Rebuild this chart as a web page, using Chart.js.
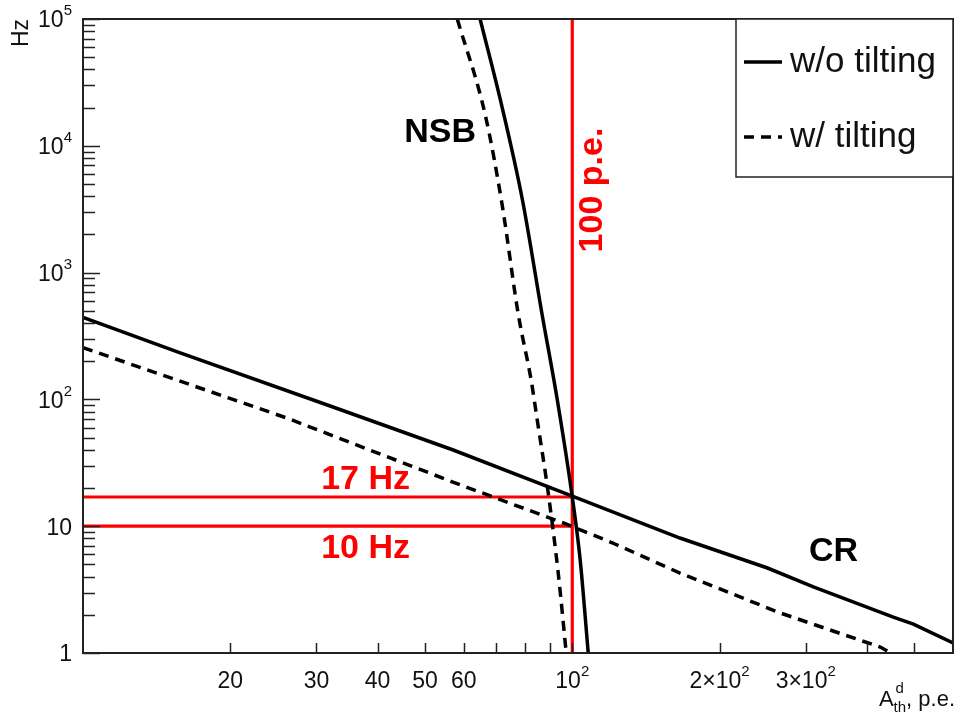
<!DOCTYPE html>
<html lang="en">
<head>
  <meta charset="UTF-8">
  <title>NSB and CR rates vs threshold</title>
  <script src="https://cdn.jsdelivr.net/npm/chart.js"></script>
  <style>
    html, body { margin: 0; padding: 0; background: #fff; }
    #wrap { width: 959px; height: 715px; position: relative; }
  </style>
</head>
<body>
  <div id="wrap"><canvas id="rates"></canvas></div>

  <script>
    // threshold A_th (p.e.) -> rate (Hz)
    const crNoTiltX = [10, 15.8, 32, 57.1, 100, 166, 250.6, 311, 453, 498, 600];
    const crNoTiltY = [444, 233, 88.7, 39.9, 17.3, 8.07, 4.68, 3.32, 1.92, 1.69, 1.2];

    const crTiltX = [10, 26.1, 57, 95.9, 121, 166, 266, 427, 447];
    const crTiltY = [256, 71.3, 22.3, 10.6, 7.37, 4.27, 2.07, 1.11, 1.0];

    const nsbNoTiltX = [64.8, 71.3, 79.1, 86.8, 93.2, 100, 103.8, 107.8];
    const nsbNoTiltY = [100000, 23000, 3740, 463, 99, 17, 5.4, 1];

    const nsbTiltX = [58.2, 66.4, 71.9, 77.6, 82.4, 84.8, 89.3, 93.6, 97.2];
    const nsbTiltY = [100000, 17500, 3410, 463, 142, 68.8, 18.3, 4.27, 1];

    // red reference lines
    const thresholdPe = 100;
    const rateLevels = [17, 10];

    // axes
    const xMin = 10, xMax = 600;
    const yMin = 1, yMax = 100000;
    const xTickValues = [20, 30, 40, 50, 60, 70, 80, 90, 100, 200, 300, 400, 500];
    const xLabelValues = [20, 30, 40, 50, 60, 100, 200, 300];
    const xLabelTexts = [['20', ''], ['30', ''], ['40', ''], ['50', ''], ['60', ''], ['10', '2'], ['2\u00d710', '2'], ['3\u00d710', '2']];
    const yLabelValues = [1, 10, 100, 1000, 10000, 100000];
    const yLabelTexts = [['1', ''], ['10', ''], ['10', '2'], ['10', '3'], ['10', '4'], ['10', '5']];
    const yTickValues = [];
    for (let d = 1; d < yMax; d *= 10) {
      for (let m = 1; m <= 9; m++) yTickValues.push(m * d);
    }
    yTickValues.push(yMax);

    const legendLabels = ['w/o tilting', 'w/ tilting'];
    const notes = [
      { text: 'NSB', x: 53.7, y: 12600, color: '#000', rot: 0 },
      { text: 'CR', x: 342, y: 6.26, color: '#000', rot: 0 },
      { text: '17 Hz', x: 37.8, y: 23.1, color: '#f00', rot: 0 },
      { text: '10 Hz', x: 37.8, y: 6.6, color: '#f00', rot: 0 },
      { text: '100 p.e.', x: 110, y: 4480, color: '#f00', rot: -Math.PI / 2 }
    ];

    const FONT = '"Liberation Sans", Arial, Helvetica, sans-serif';
    const pts = (xs, ys) => xs.map((v, i) => ({ x: v, y: ys[i] }));
    const DASH = [10, 7];

    function curve(label, xs, ys, dashed, smooth) {
      return {
        label: label,
        data: pts(xs, ys),
        borderColor: '#000',
        borderWidth: 3.5,
        borderDash: dashed ? DASH : [],
        pointRadius: 0,
        cubicInterpolationMode: smooth ? 'monotone' : 'default',
        tension: 0,
        fill: false
      };
    }
    function redLine(data) {
      return { label: '', data: data, borderColor: '#f00', borderWidth: 3.2, pointRadius: 0, tension: 0, fill: false };
    }

    // text with an optional superscript, e.g. 10^2
    function powText(ctx, base, exp, x, y, align, size) {
      ctx.font = size + 'px ' + FONT;
      const wb = ctx.measureText(base).width;
      ctx.font = Math.round(size * 0.65) + 'px ' + FONT;
      const we = exp ? ctx.measureText(exp).width : 0;
      const total = wb + we;
      let start = x;
      if (align === 'center') start = x - total / 2;
      if (align === 'right') start = x - total;
      ctx.textAlign = 'left';
      ctx.textBaseline = 'middle';
      ctx.font = size + 'px ' + FONT;
      ctx.fillText(base, start, y);
      if (exp) {
        ctx.font = Math.round(size * 0.65) + 'px ' + FONT;
        ctx.fillText(exp, start + wb, y - size * 0.42);
      }
    }

    const decorations = {
      id: 'decorations',
      afterDatasetsDraw(chart) {
        const { ctx, chartArea: a, scales: { x, y } } = chart;
        ctx.save();

        // frame
        ctx.strokeStyle = '#222';
        ctx.lineWidth = 2;
        ctx.setLineDash([]);
        ctx.strokeRect(a.left, a.top, a.right - a.left, a.bottom - a.top);

        // inner ticks
        ctx.lineWidth = 1.5;
        ctx.beginPath();
        xTickValues.forEach(v => {
          const px = Math.round(x.getPixelForValue(v)) + 0.5;
          ctx.moveTo(px, a.bottom);
          ctx.lineTo(px, a.bottom - 10);
        });
        yTickValues.forEach(v => {
          const py = Math.round(y.getPixelForValue(v)) + 0.5;
          const len = yLabelValues.includes(v) ? 17 : 12;
          ctx.moveTo(a.left, py);
          ctx.lineTo(a.left + len, py);
        });
        ctx.stroke();

        // tick labels
        ctx.fillStyle = '#111';
        xLabelValues.forEach((v, i) => {
          powText(ctx, xLabelTexts[i][0], xLabelTexts[i][1], x.getPixelForValue(v), a.bottom + 29, 'center', 23);
        });
        yLabelValues.forEach((v, i) => {
          powText(ctx, yLabelTexts[i][0], yLabelTexts[i][1], a.left - 11, y.getPixelForValue(v) + 2, 'right', 23);
        });

        // axis titles
        ctx.save();
        ctx.translate(22, a.top);
        ctx.rotate(-Math.PI / 2);
        ctx.font = '23px ' + FONT;
        ctx.textAlign = 'right';
        ctx.textBaseline = 'middle';
        ctx.fillText('Hz', 0, 0);
        ctx.restore();

        ctx.textBaseline = 'alphabetic';
        ctx.textAlign = 'right';
        ctx.font = '22px ' + FONT;
        const tail = ', p.e.';
        const tailW = ctx.measureText(tail).width;
        const tx = a.right + 2;
        const ty = 706;
        ctx.fillText(tail, tx, ty);
        ctx.font = '15px ' + FONT;
        const thW = ctx.measureText('th').width;
        ctx.textAlign = 'left';
        const subX = tx - tailW - thW;
        ctx.fillText('th', subX, ty + 6);
        ctx.fillText('d', subX + 2, ty - 13);
        ctx.font = '22px ' + FONT;
        ctx.textAlign = 'right';
        ctx.fillText('A', subX, ty);

        // annotations
        notes.forEach(n => {
          ctx.save();
          ctx.translate(x.getPixelForValue(n.x), y.getPixelForValue(n.y));
          ctx.rotate(n.rot);
          ctx.fillStyle = n.color;
          ctx.font = 'bold 34px ' + FONT;
          ctx.textAlign = 'center';
          ctx.textBaseline = 'middle';
          ctx.fillText(n.text, 0, 0);
          ctx.restore();
        });

        // legend box
        const lx = a.right - 217, ly = a.top, lw = 217, lh = 158;
        ctx.fillStyle = '#fff';
        ctx.fillRect(lx, ly, lw, lh);
        ctx.strokeStyle = '#222';
        ctx.lineWidth = 1.5;
        ctx.strokeRect(lx, ly, lw, lh);
        legendLabels.forEach((lab, i) => {
          const cy = ly + 43 + i * 75;
          ctx.strokeStyle = '#000';
          ctx.lineWidth = 3.5;
          ctx.setLineDash(i === 1 ? DASH : []);
          ctx.beginPath();
          ctx.moveTo(lx + 8, cy);
          ctx.lineTo(lx + 46, cy);
          ctx.stroke();
          ctx.setLineDash([]);
          ctx.fillStyle = '#111';
          ctx.font = '35px ' + FONT;
          ctx.textAlign = 'left';
          ctx.textBaseline = 'middle';
          ctx.fillText(lab, lx + 54, cy);
        });

        ctx.restore();
      }
    };

    const ctx = document.getElementById('rates').getContext('2d');
    const chart = new Chart(ctx, {
      type: 'line',
      data: {
        datasets: [
          curve('CR w/o tilting', crNoTiltX, crNoTiltY, false, false),
          curve('CR w/ tilting', crTiltX, crTiltY, true, false),
          curve('NSB w/o tilting', nsbNoTiltX, nsbNoTiltY, false, true),
          curve('NSB w/ tilting', nsbTiltX, nsbTiltY, true, true),
          redLine([{ x: thresholdPe, y: yMin }, { x: thresholdPe, y: yMax }]),
          redLine([{ x: xMin, y: rateLevels[0] }, { x: thresholdPe, y: rateLevels[0] }]),
          redLine([{ x: xMin, y: rateLevels[1] }, { x: thresholdPe, y: rateLevels[1] }])
        ]
      },
      options: {
        responsive: true,
        maintainAspectRatio: false,
        animation: false,
        layout: { padding: { top: 19, right: 6, left: 0, bottom: 0 } },
        plugins: { legend: { display: false }, tooltip: { enabled: false } },
        scales: {
          x: {
            type: 'logarithmic',
            min: xMin,
            max: xMax,
            ticks: { display: false },
            grid: { display: false },
            border: { display: false },
            afterFit(s) { s.height = 62; }
          },
          y: {
            type: 'logarithmic',
            min: yMin,
            max: yMax,
            ticks: { display: false },
            grid: { display: false },
            border: { display: false },
            afterFit(s) { s.width = 83; }
          }
        }
      },
      plugins: [decorations]
    });
  </script>
</body>
</html>
